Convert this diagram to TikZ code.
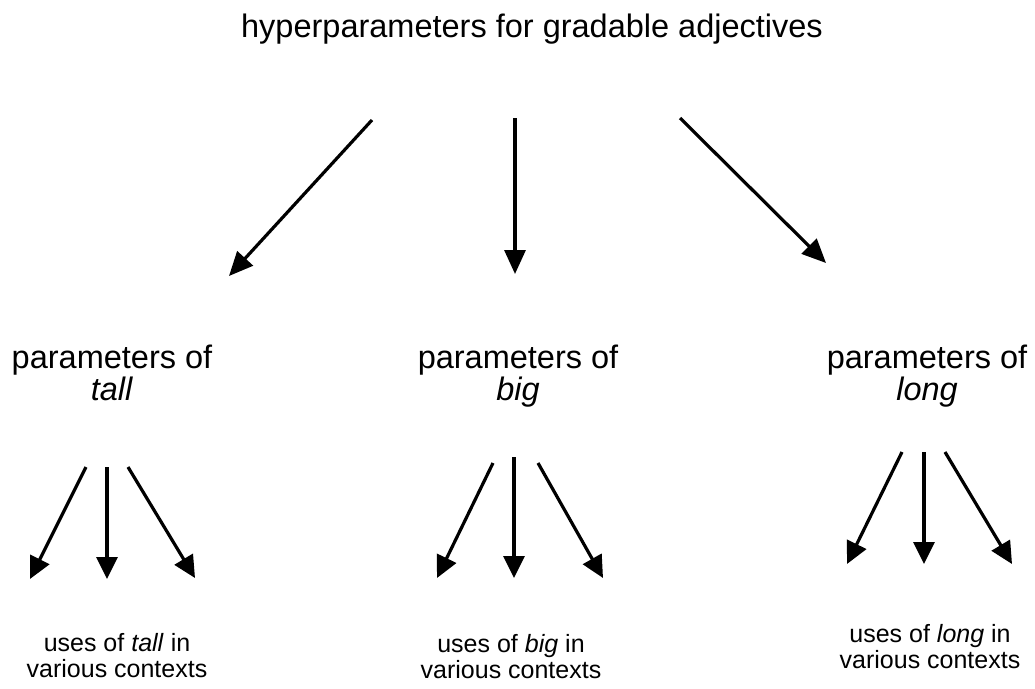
\documentclass[tikz,border=0pt]{standalone}
\usepackage{fontspec}
\setmainfont{Liberation Sans}
\usetikzlibrary{arrows.meta}
\begin{document}
\begin{tikzpicture}[x=1pt,y=-1pt,
  bigtext/.style={font=\fontsize{32.5}{27}\selectfont, align=center, inner sep=0pt},
  smalltext/.style={font=\fontsize{25}{26}\selectfont, align=center, inner sep=0pt},
  link/.style={line width=3.2pt, -{Triangle[length=24pt,width=21pt]}},
  sublink/.style={line width=3.2pt, -{Triangle[length=22pt,width=21pt]}}]
\fill[white] (0,0) rectangle (1035,688);
\useasboundingbox (0,0) rectangle (1035,688);

% labels (base anchor = baseline of the last line)
\node[bigtext, anchor=base] (hyper) at (532,37) {hyperparameters for gradable adjectives};
\node[bigtext, anchor=base] (ptall) at (112,400) {parameters of\\\textit{tall}};
\node[bigtext, anchor=base] (pbig)  at (518,400) {parameters of\\\textit{big}};
\node[bigtext, anchor=base] (plong) at (927,400) {parameters of\\\textit{long}};
\node[smalltext, anchor=base] (utall) at (117,677) {uses of \textit{tall} in\\various contexts};
\node[smalltext, anchor=base] (ubig)  at (511,678) {uses of \textit{big} in\\various contexts};
\node[smalltext, anchor=base] (ulong) at (930,668) {uses of \textit{long} in\\various contexts};

% arrow end points
\coordinate (h1) at (372,120); \coordinate (h1e) at (229,276);
\coordinate (h2) at (515,118); \coordinate (h2e) at (515,274);
\coordinate (h3) at (680,118); \coordinate (h3e) at (826,263);

\coordinate (t1) at (86,467);  \coordinate (t1e) at (30,579);
\coordinate (t2) at (107,467); \coordinate (t2e) at (107,579);
\coordinate (t3) at (128,467); \coordinate (t3e) at (195,578);

\coordinate (b1) at (493,463); \coordinate (b1e) at (437,578);
\coordinate (b2) at (514,457); \coordinate (b2e) at (514,578);
\coordinate (b3) at (538,463); \coordinate (b3e) at (603,578);

\coordinate (l1) at (902,452); \coordinate (l1e) at (847,564);
\coordinate (l2) at (924,452); \coordinate (l2e) at (924,564);
\coordinate (l3) at (945,452); \coordinate (l3e) at (1012,564);

% hyperparameters to parameters
\draw[link] (h1) -- (h1e);
\draw[link] (h2) -- (h2e);
\draw[link] (h3) -- (h3e);

% parameters to uses
\foreach \g in {t,b,l}{
  \draw[sublink] (\g1) -- (\g1e);
  \draw[sublink] (\g2) -- (\g2e);
  \draw[sublink] (\g3) -- (\g3e);
}
\end{tikzpicture}
\end{document}
